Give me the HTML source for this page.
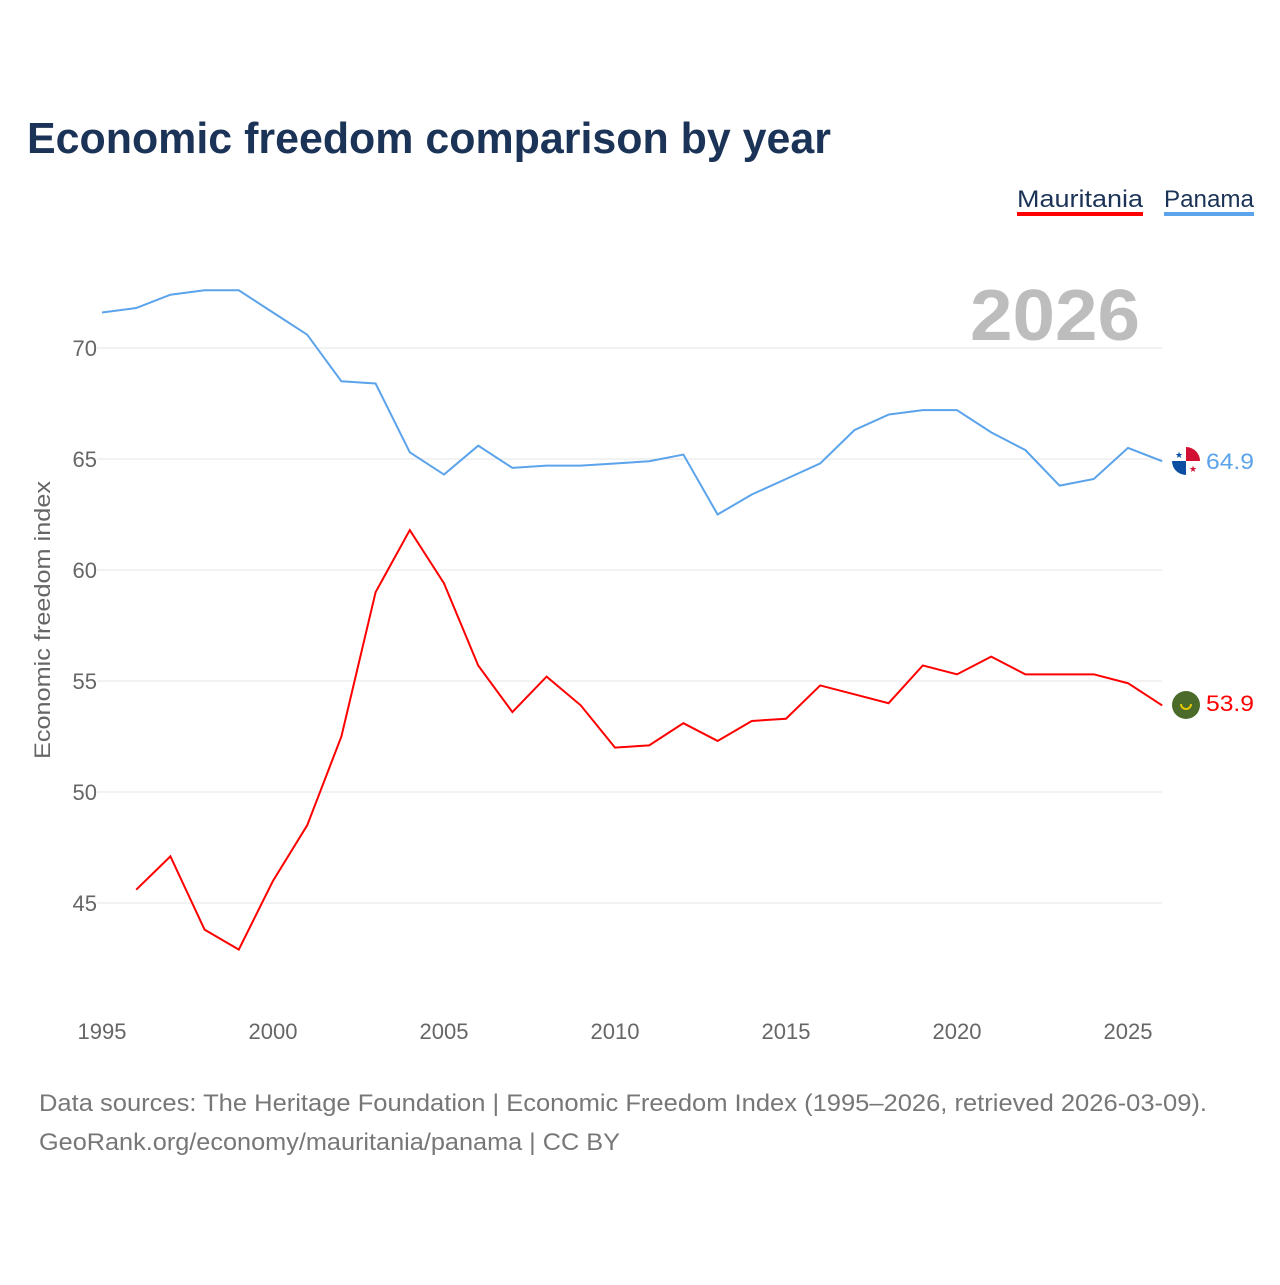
<!DOCTYPE html>
<html><head><meta charset="utf-8"><style>
body{margin:0;background:#fff;width:1280px;height:1280px;overflow:hidden;font-family:"Liberation Sans",sans-serif}
</style></head><body>
<svg width="1280" height="1280" xmlns="http://www.w3.org/2000/svg" font-family="Liberation Sans, sans-serif">
<text x="27" y="153" font-size="44" font-weight="bold" fill="#1b3356" textLength="804" lengthAdjust="spacingAndGlyphs">Economic freedom comparison by year</text>
<g><text x="1017" y="207" font-size="24" fill="#1b3356" textLength="126" lengthAdjust="spacingAndGlyphs">Mauritania</text><rect x="1017" y="212" width="126" height="4" fill="#f00"/></g>
<g><text x="1164" y="207" font-size="24" fill="#1b3356" textLength="90" lengthAdjust="spacingAndGlyphs">Panama</text><rect x="1164" y="212" width="90" height="4" fill="#5ba3ea"/></g>
<text x="970" y="340" font-size="72" font-weight="bold" fill="#bdbdbd" textLength="170" lengthAdjust="spacingAndGlyphs">2026</text>
<g id="grid"></g><g id="xt"></g>
<text transform="translate(50,620) rotate(-90)" font-size="22" fill="#666" text-anchor="middle" textLength="278" lengthAdjust="spacingAndGlyphs">Economic freedom index</text>
<g id="series"></g>
<g><clipPath id="cp"><circle cx="1186" cy="461" r="14"/></clipPath><g clip-path="url(#cp)"><rect x="1172" y="447" width="28" height="28" fill="#fff"/><rect x="1186" y="447" width="14" height="14" fill="#d21034"/><rect x="1172" y="461" width="14" height="14" fill="#0b4ea2"/></g><text x="1179" y="458" font-size="9" fill="#0b4ea2" text-anchor="middle">★</text><text x="1193" y="472" font-size="9" fill="#d21034" text-anchor="middle">★</text></g>
<g><circle cx="1186" cy="705" r="14" fill="#4a6b2a"/><path d="M1181 704 a5 5 0 0 0 10 0" stroke="#e8c800" stroke-width="2" fill="none"/></g>
<text x="1206" y="469" font-size="22" fill="#5ba3ea" textLength="48" lengthAdjust="spacingAndGlyphs">64.9</text>
<text x="1206" y="711" font-size="22" fill="#f00" textLength="48" lengthAdjust="spacingAndGlyphs">53.9</text>
<text x="39" y="1111" font-size="24" fill="#777" textLength="1168" lengthAdjust="spacingAndGlyphs">Data sources: The Heritage Foundation | Economic Freedom Index (1995–2026, retrieved 2026-03-09).</text>
<text x="39" y="1150" font-size="24" fill="#777" textLength="581" lengthAdjust="spacingAndGlyphs">GeoRank.org/economy/mauritania/panama | CC BY</text>
</svg>
<script>
const years=[1995,1996,1997,1998,1999,2000,2001,2002,2003,2004,2005,2006,2007,2008,2009,2010,2011,2012,2013,2014,2015,2016,2017,2018,2019,2020,2021,2022,2023,2024,2025,2026];
const panama=[71.6,71.8,72.4,72.6,72.6,71.6,70.6,68.5,68.4,65.3,64.3,65.6,64.6,64.7,64.7,64.8,64.9,65.2,62.5,63.4,64.1,64.8,66.3,67.0,67.2,67.2,66.2,65.4,63.8,64.1,65.5,64.9];
const mauritania=[null,45.6,47.1,43.8,42.9,46.0,48.5,52.5,59.0,61.8,59.4,55.7,53.6,55.2,53.9,52.0,52.1,53.1,52.3,53.2,53.3,54.8,54.4,54.0,55.7,55.3,56.1,55.3,55.3,55.3,54.9,53.9];
const yTicks=[45,50,55,60,65,70];
const xTicks=[1995,2000,2005,2010,2015,2020,2025];
const NS="http://www.w3.org/2000/svg";
const X=y=>102+(y-1995)*34.2;
const Y=v=>348+(70-v)*22.2;
const grid=document.getElementById('grid');
yTicks.forEach(t=>{
 const l=document.createElementNS(NS,'line');
 l.setAttribute('x1',97);l.setAttribute('x2',1162);l.setAttribute('y1',Y(t));l.setAttribute('y2',Y(t));
 l.setAttribute('stroke','#e6e6e6');l.setAttribute('stroke-width',1);
 
 
 grid.appendChild(l);
 const tx=document.createElementNS(NS,'text');
 tx.setAttribute('x',97);tx.setAttribute('y',Y(t)+8);tx.setAttribute('text-anchor','end');
 tx.setAttribute('font-size',22);tx.setAttribute('fill','#666');tx.textContent=t;
 
 
 grid.appendChild(tx);
});
const xt=document.getElementById('xt');
xTicks.forEach(t=>{
 const tx=document.createElementNS(NS,'text');
 tx.setAttribute('x',X(t));tx.setAttribute('y',1039);tx.setAttribute('text-anchor','middle');
 tx.setAttribute('font-size',22);tx.setAttribute('fill','#666');tx.textContent=t;
 
 
 xt.appendChild(tx);
});
function line(vals,color,name){
 let d='';vals.forEach((v,i)=>{if(v==null)return;d+=(d?'L':'M')+X(years[i])+' '+Y(v)+' ';});
 const p=document.createElementNS(NS,'path');
 p.setAttribute('d',d);p.setAttribute('fill','none');p.setAttribute('stroke',color);p.setAttribute('stroke-width',2);
 
 
 document.getElementById('series').appendChild(p);
}
line(panama,'#5ba3ea','panama-line');
line(mauritania,'#f00','mauritania-line');
</script>
</body></html>
